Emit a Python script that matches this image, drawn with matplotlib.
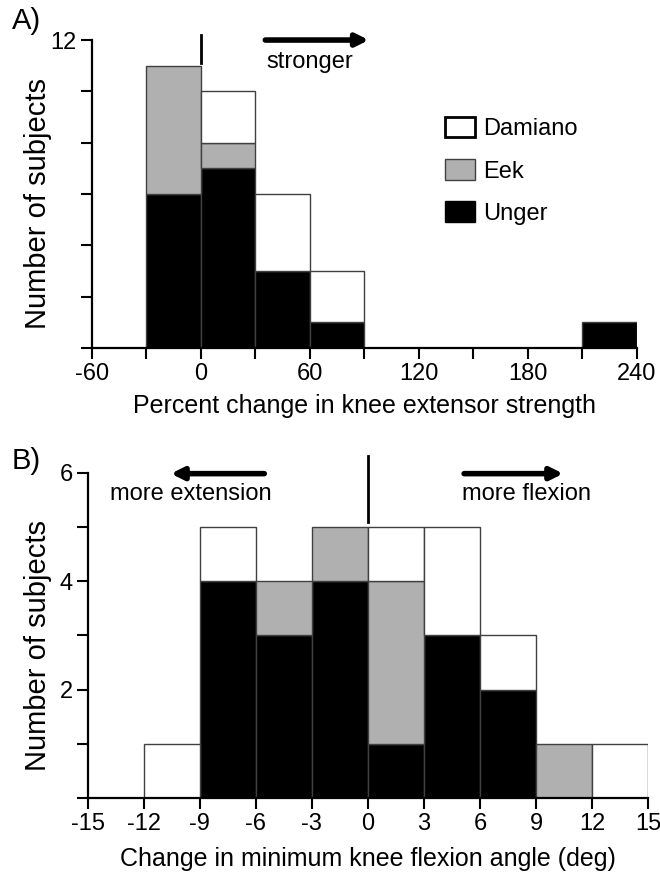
import numpy as np
import matplotlib
matplotlib.use("Agg")
import matplotlib.pyplot as plt
from matplotlib.patches import Patch

plt.rcParams["font.family"] = ["Liberation Sans", "DejaVu Sans"]
plt.rcParams["axes.unicode_minus"] = False

# パネルA: 膝伸展筋力の変化率 (%)
a_edges = [-30, 0, 30, 60, 90, 120, 150, 180, 210, 240]
a_unger = [6, 7, 3, 1, 0, 0, 0, 0, 1]
a_eek = [5, 1, 0, 0, 0, 0, 0, 0, 0]
a_damiano = [0, 2, 3, 2, 0, 0, 0, 0, 0]
a_xticks = [-60, -30, 0, 30, 60, 90, 120, 150, 180, 210, 240]
a_yticks = [0, 2, 4, 6, 8, 10, 12]

# パネルB: 最小膝屈曲角の変化 (deg)
b_edges = [-15, -12, -9, -6, -3, 0, 3, 6, 9, 12, 15]
b_unger = [0, 0, 4, 3, 4, 1, 3, 2, 0, 0]
b_eek = [0, 0, 0, 1, 1, 3, 0, 0, 1, 0]
b_damiano = [0, 1, 1, 0, 0, 1, 2, 1, 0, 1]
b_xticks = [-15, -12, -9, -6, -3, 0, 3, 6, 9, 12, 15]
b_yticks = [0, 1, 2, 3, 4, 5, 6]

GREY = "#b0b0b0"
EDGE = "#404040"


def stacked_hist(ax, edges, unger, eek, damiano):
    left = np.array(edges[:-1], dtype=float)
    width = np.diff(edges)
    unger = np.array(unger, dtype=float)
    eek = np.array(eek, dtype=float)
    damiano = np.array(damiano, dtype=float)
    layers = [(unger, 0, "black"), (eek, unger, GREY), (damiano, unger + eek, "white")]
    for vals, bottom, color in layers:
        m = vals > 0
        bottom = np.broadcast_to(bottom, vals.shape)
        ax.bar(left[m], vals[m], width=width[m], bottom=bottom[m], align="edge",
               color=color, edgecolor=EDGE, linewidth=1.0, zorder=2)


def style_axes(ax):
    for s in ["top", "right"]:
        ax.spines[s].set_visible(False)
    for s in ["left", "bottom"]:
        ax.spines[s].set_linewidth(1.6)
    ax.tick_params(direction="out", length=8, width=1.5, labelsize=17, pad=3)


fig = plt.figure(figsize=(6.6, 8.8), dpi=100)

# ---- パネルA ----
ax1 = fig.add_axes([0.139, 0.6045, 0.826, 0.35])
stacked_hist(ax1, a_edges, a_unger, a_eek, a_damiano)
ax1.set_xlim(-60, 240)
ax1.set_ylim(0, 12)
ax1.set_xticks(a_xticks)
ax1.set_xticklabels([str(v) if v % 60 == 0 else "" for v in a_xticks])
ax1.set_yticks(a_yticks)
ax1.set_yticklabels([str(v) if v == 12 else "" for v in a_yticks])
style_axes(ax1)
ax1.set_ylabel("Number of subjects", fontsize=21)
ax1.yaxis.set_label_coords(-0.072, 0.47)
ax1.set_xlabel("Percent change in knee extensor strength", fontsize=18, labelpad=6)

ax1.plot([0, 0], [11.1, 12.2], color="black", lw=2, clip_on=False)
ax1.annotate("", xy=(94, 12.0), xytext=(34, 12.0), annotation_clip=False,
             arrowprops=dict(arrowstyle="-|>", lw=4, color="black", mutation_scale=18))
ax1.text(60, 11.15, "stronger", fontsize=17, ha="center", va="center")

handles = [Patch(facecolor="white", edgecolor="black", linewidth=2, label="Damiano"),
           Patch(facecolor=GREY, edgecolor=EDGE, linewidth=1, label="Eek"),
           Patch(facecolor="black", edgecolor="black", linewidth=1, label="Unger")]
ax1.legend(handles=handles, loc="upper left", bbox_to_anchor=(0.648, 0.75),
           frameon=False, fontsize=17, handlelength=1.27, handleheight=0.95,
           handletextpad=0.35, labelspacing=0.8, borderaxespad=0, borderpad=0)

fig.text(0.018, 0.976, "A)", fontsize=21, ha="left", va="center")

# ---- パネルB ----
ax2 = fig.add_axes([0.133, 0.093, 0.849, 0.37])
stacked_hist(ax2, b_edges, b_unger, b_eek, b_damiano)
ax2.set_xlim(-15, 15)
ax2.set_ylim(0, 6)
ax2.set_xticks(b_xticks)
ax2.set_yticks(b_yticks)
ax2.set_yticklabels([str(v) if v in (2, 4, 6) else "" for v in b_yticks])
style_axes(ax2)
ax2.set_ylabel("Number of subjects", fontsize=21)
ax2.yaxis.set_label_coords(-0.063, 0.47)
ax2.set_xlabel("Change in minimum knee flexion angle (deg)", fontsize=18, labelpad=8)

ax2.plot([0, 0], [5.09, 6.3], color="black", lw=2, clip_on=False)
ax2.annotate("", xy=(-10.7, 5.98), xytext=(-5.4, 5.98), annotation_clip=False,
             arrowprops=dict(arrowstyle="-|>", lw=4, color="black", mutation_scale=18))
ax2.text(-9.5, 5.6, "more extension", fontsize=17, ha="center", va="center")
ax2.annotate("", xy=(10.6, 5.98), xytext=(5.0, 5.98), annotation_clip=False,
             arrowprops=dict(arrowstyle="-|>", lw=4, color="black", mutation_scale=18))
ax2.text(8.5, 5.6, "more flexion", fontsize=17, ha="center", va="center")

fig.text(0.018, 0.476, "B)", fontsize=21, ha="left", va="center")

fig.savefig("out.png", dpi=100)
